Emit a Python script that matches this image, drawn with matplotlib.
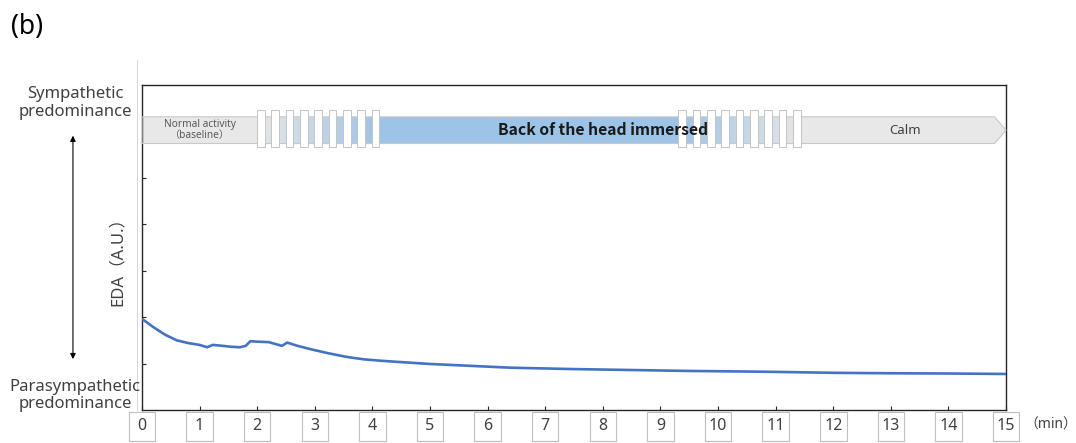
import matplotlib
matplotlib.use('Agg')
import matplotlib.pyplot as plt
import matplotlib.transforms as mtransforms
from matplotlib.colors import to_rgb
from matplotlib.patches import Rectangle, Polygon
import numpy as np

plt.rcParams['font.family'] = ['Noto Sans', 'Noto Sans CJK JP', 'DejaVu Sans']

# EDA trace (minutes, arbitrary units)
time_min = [0.0, 0.2, 0.4, 0.6, 0.8, 1.0, 1.13, 1.23, 1.4, 1.55, 1.7, 1.8,
            1.88, 2.0, 2.2, 2.43, 2.52, 2.7, 2.92, 3.2, 3.56, 3.85, 4.14,
            4.5, 5.0, 5.7, 6.4, 7.5, 8.5, 9.5, 10.3, 11.0, 12.0, 13.0,
            14.0, 15.0]
eda_au = [1.96, 1.78, 1.62, 1.50, 1.44, 1.40, 1.35, 1.40, 1.38, 1.36, 1.35,
          1.38, 1.48, 1.47, 1.46, 1.38, 1.45, 1.38, 1.31, 1.23, 1.14, 1.09,
          1.06, 1.03, 0.99, 0.95, 0.91, 0.88, 0.86, 0.84, 0.83, 0.82, 0.80,
          0.79, 0.785, 0.775]

minute_ticks = list(range(16))
level_ticks = [1, 2, 3, 4, 5, 6]

# Protocol phases along the top arrow (minutes)
phase_names = ['Normal activity\n（baseline）', 'Back of the head immersed', 'Calm']
phase_label_x = [1.0, 8.0, 13.25]
ramp_in = (1.995, 4.12)
immersed = (4.12, 9.31)
ramp_out = (9.31, 11.43)
tip_start = 14.8
arrow_end = 15.0
stripe_step = 0.249
stripe_width = 0.133
n_stripes = 9

GRAY = '#e8e8e8'
BLUE = '#9dc3e6'
LINE = '#4472c4'
TEXT = '#404040'
SPINE = '#262626'

fig = plt.figure(figsize=(10.76, 4.43), dpi=100)
ax = fig.add_axes([0.132, 0.0745, 0.803, 0.7345])

ax.plot(time_min, eda_au, color=LINE, lw=1.9, zorder=5, solid_capstyle='butt')
ax.set_xlim(0, 15)
ax.set_ylim(0, 7)
ax.set_yticks(level_ticks)
ax.set_yticklabels([])
ax.set_xticks(minute_ticks)
ax.set_xticklabels([str(m) for m in minute_ticks])
ax.tick_params(axis='both', direction='in', length=3, width=0.8, color=SPINE)
ax.tick_params(axis='x', labelsize=11.5, labelcolor=TEXT, pad=5.5)
for s in ax.spines.values():
    s.set_color(SPINE)
    s.set_linewidth(1.0)

bt = mtransforms.blended_transform_factory(ax.transData, ax.transAxes)

# boxes around the minute labels
for m in minute_ticks:
    ax.add_patch(Rectangle((m - 0.23, -0.094), 0.46, 0.0865, transform=bt,
                           fc='none', ec='#bfbfbf', lw=0.8, clip_on=False))

# Top arrow with phases
y0, y1 = 0.819, 0.901
ym = (y0 + y1) / 2


def gradient(x_from, x_to, c_from, c_to, n=60):
    a, b = np.array(to_rgb(c_from)), np.array(to_rgb(c_to))
    edges = np.linspace(x_from, x_to, n + 1)
    for i in range(n):
        f = i / (n - 1)
        ax.add_patch(Rectangle((edges[i], y0), (edges[i + 1] - edges[i]) * 1.05, y1 - y0,
                               transform=bt, fc=a + (b - a) * f, lw=0, zorder=2,
                               clip_on=False))


ax.add_patch(Rectangle((0, y0), ramp_in[0], y1 - y0, transform=bt,
                       fc=GRAY, lw=0, zorder=2))
gradient(ramp_in[0], ramp_in[1], '#e6e6e6', BLUE)
ax.add_patch(Rectangle((immersed[0], y0), immersed[1] - immersed[0], y1 - y0,
                       transform=bt, fc=BLUE, lw=0, zorder=2))
gradient(ramp_out[0], ramp_out[1], BLUE, '#e6e6e6')
ax.add_patch(Polygon([(ramp_out[1], y0), (tip_start, y0), (arrow_end, ym),
                      (tip_start, y1), (ramp_out[1], y1)], closed=True,
                     transform=bt, fc=GRAY, lw=0, zorder=2, clip_on=False))
ax.add_patch(Polygon([(0, y0), (tip_start, y0), (arrow_end, ym), (tip_start, y1), (0, y1)],
                     closed=True, transform=bt, fc='none', ec='#c8c8c8', lw=0.8,
                     zorder=3, clip_on=False))

for start in (ramp_in[0], ramp_out[0]):
    for k in range(n_stripes):
        ax.add_patch(Rectangle((start + k * stripe_step, 0.807), stripe_width, 0.115,
                               transform=bt, fc='white', ec='#c4c4c4', lw=0.7,
                               zorder=4, clip_on=False))

ax.text(phase_label_x[0], ym, phase_names[0], transform=bt, ha='center', va='center',
        fontsize=7.3, color='#595959', linespacing=1.0, zorder=6)
ax.text(phase_label_x[1], ym, phase_names[1], transform=bt, ha='center', va='center',
        fontsize=11.3, fontweight='bold', color='#1a1a1a', zorder=6,
        family=['Noto Sans CJK JP', 'DejaVu Sans'])
ax.text(phase_label_x[2], ym, phase_names[2], transform=bt, ha='center', va='center',
        fontsize=9.5, color=TEXT, zorder=6)

# Left-hand annotations
fig.text(0.0697, 0.7675, 'Sympathetic\npredominance', ha='center', va='center',
         fontsize=12, color=TEXT, linespacing=1.1)
fig.text(0.0697, 0.108, 'Parasympathetic\npredominance', ha='center', va='center',
         fontsize=12, color=TEXT, linespacing=1.1)
fig.patches.append(matplotlib.patches.FancyArrowPatch(
    (0.0678, 0.183), (0.0678, 0.70), transform=fig.transFigure,
    arrowstyle='<|-|>', mutation_scale=8, lw=0.8, color='black'))
fig.text(0.1097, 0.42, 'EDA（A.U.）', rotation=90, ha='center', va='center',
         fontsize=12, color=TEXT)
fig.text(0.977, 0.0406, '（min）', ha='center', va='center', fontsize=10, color=TEXT)
fig.text(0.01, 0.94, '(b)', ha='left', va='center', fontsize=19, color='black')

# faint frame line left of the plot area
fig.add_artist(matplotlib.lines.Line2D([0.127, 0.127], [0.07, 0.865],
                                       transform=fig.transFigure, color='#d9d9d9', lw=0.8))

fig.savefig('out.png', dpi=100)
